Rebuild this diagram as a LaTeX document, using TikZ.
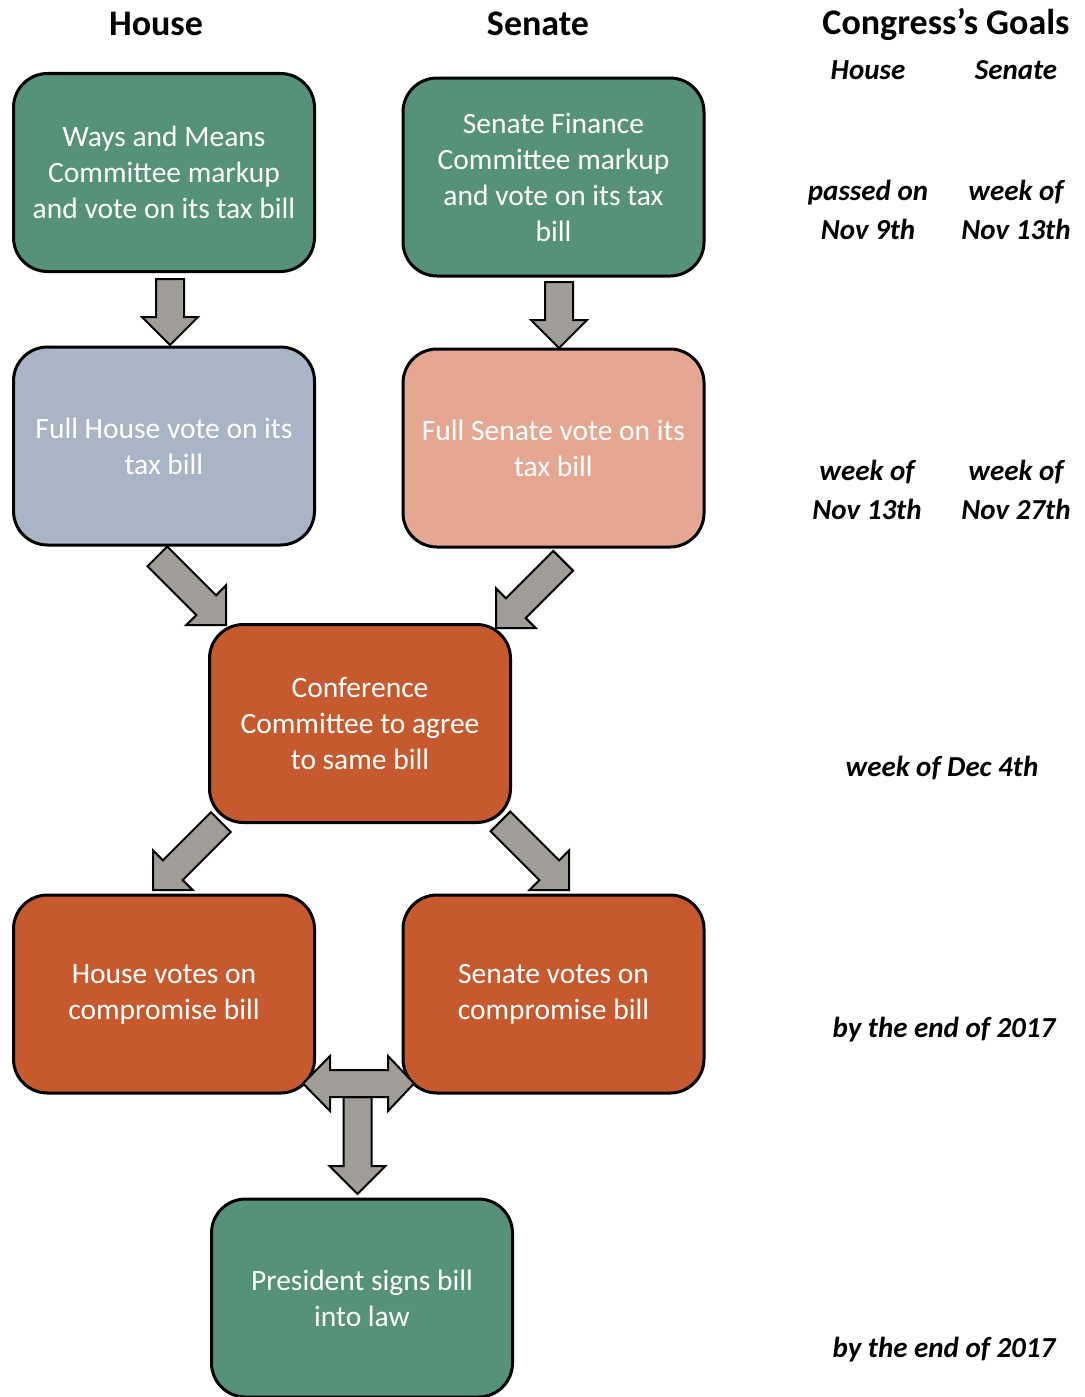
\documentclass[tikz,border=0pt]{standalone}
\usepackage{fontspec}
\setmainfont{Carlito}[Ligatures=ResetAll]
\begin{document}
\begin{tikzpicture}[x=1pt,y=-1pt,
  box/.style={draw=black,line width=3pt,rounded corners=34pt,minimum width=301pt,minimum height=198pt,
    text=white,align=center,font=\fontsize{29.5}{36}\selectfont,inner sep=0pt},
  arr/.style={draw=black,line width=2pt,fill=arrgray,line join=miter},
  head/.style={font=\bfseries\fontsize{36}{40}\selectfont},
  goal/.style={font=\bfseries\itshape\fontsize{29}{39}\selectfont,align=center}]
\definecolor{bgreen}{HTML}{56917A}
\definecolor{bblue}{HTML}{A9B4C6}
\definecolor{bsalmon}{HTML}{E6A792}
\definecolor{borange}{HTML}{C65A2E}
\definecolor{arrgray}{HTML}{A09D99}
\useasboundingbox (0,0) rectangle (1084,1397);
\newcommand\blkarrow[3]{%
  \begin{scope}[shift={(#1)},rotate=#2]
    \draw[arr] (0,0) -- (-28,28) -- (-28,14) -- (-#3,14) -- (-#3,-14) -- (-28,-14) -- (-28,-28) -- cycle;
  \end{scope}}

% headings
\node[head] (hh) at (156,24) {House};
\node[head] (hs) at (538,24) {Senate};
\node[head] (hg) at (946,24) {Congress's Goals};
\node[goal] (gh) at (868,70) {House};
\node[goal] (gs) at (1016,70) {Senate};

% boxes
\node[box,fill=bgreen] (wm) at (164,172.5) {Ways and Means\\Committee markup\\and vote on its tax bill};
\node[box,fill=bgreen] (sf) at (553.5,177) {Senate Finance\\Committee markup\\and vote on its tax\\bill};
\node[box,fill=bblue] (fh) at (164,446) {Full House vote on its\\tax bill};
\node[box,fill=bsalmon] (fs) at (553.5,448) {Full Senate vote on its\\tax bill};
\node[box,fill=borange] (cc) at (360,723.5) {Conference\\Committee to agree\\to same bill};
\node[box,fill=borange] (hv) at (164,994) {House votes on\\compromise bill};
\node[box,fill=borange] (sv) at (553.5,994) {Senate votes on\\compromise bill};
\node[box,fill=bgreen] (pr) at (362,1298) {President signs bill\\into law};

% goals
\node[goal] (g1a) at (868,210) {passed on\\Nov 9th};
\node[goal] (g1b) at (1016,210) {week of\\Nov 13th};
\node[goal] (g2a) at (867,490) {week of\\Nov 13th};
\node[goal] (g2b) at (1016,490) {week of\\Nov 27th};
\node[goal] (g3) at (942,768) {week of Dec 4th};
\node[goal] (g4) at (944,1030) {by the end of 2017};
\node[goal] (g5) at (944,1350) {by the end of 2017};

% arrow tips
\coordinate (t1) at (170,345);
\coordinate (t2) at (559,348);
\coordinate (t3) at (226,625);
\coordinate (t4) at (496,628);
\coordinate (t5) at (153,890);
\coordinate (t6) at (569,890);
\coordinate (t7) at (357.5,1194);

\blkarrow{t1}{-90}{66}
\blkarrow{t2}{-90}{66}
\blkarrow{t3}{-45}{97}
\blkarrow{t4}{-135}{95}
\blkarrow{t5}{-135}{96}
\blkarrow{t6}{-45}{97}
\blkarrow{t7}{-90}{97}

% double arrow between the votes
\coordinate (dl) at (303,1083.5);
\coordinate (dr) at (414,1083.5);
\draw[arr] (dl) -- (330,1056) -- (330,1070) -- (388,1070) -- (388,1056) -- (dr)
  -- (388,1111) -- (388,1097) -- (330,1097) -- (330,1111) -- cycle;
\end{tikzpicture}
\end{document}
